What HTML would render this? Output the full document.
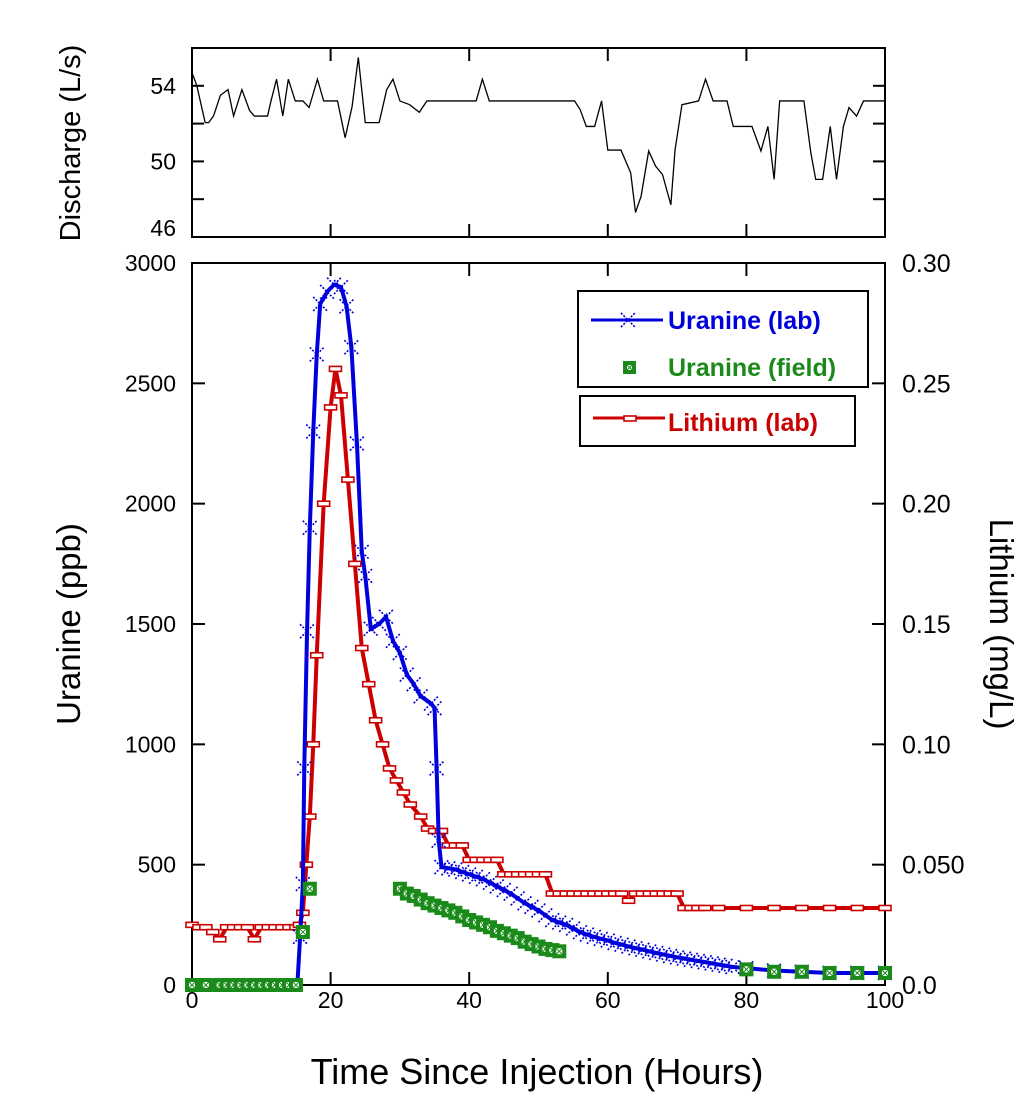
<!DOCTYPE html>
<html><head><meta charset="utf-8"><style>
body{margin:0;background:#fff;}
svg text{font-family:"Liberation Sans",sans-serif;}
</style></head><body>
<svg id="chart" width="1024" height="1112" viewBox="0 0 1024 1112" xmlns="http://www.w3.org/2000/svg">
<g id="g"></g>
</svg>
<script>
const hours=[0,0.7,1.9,2.4,3.1,4.1,5.2,6,7.2,8.3,9,10.9,11.4,12.2,13.1,13.9,14.9,16,16.9,18.1,19,21,22.1,23.1,24,25,27,28.1,29,30,31.4,32.8,33.9,41,41.9,42.9,55.2,56,56.9,58.1,59.1,60,61.9,63.3,64,64.8,65.9,66.9,67.9,69.1,69.7,70.7,73.1,74.1,75.2,77.2,78.1,80.8,82.1,83.1,84,84.8,88.3,89.3,90,91,92.1,93,94,94.8,95.9,96.9,100];
const discharge=[54.7,54,52.05,52.05,52.4,53.5,53.8,52.4,53.8,52.7,52.4,52.4,53.2,54.35,52.4,54.35,53.2,53.2,52.85,54.35,53.2,53.2,51.25,52.9,55.5,52.05,52.05,53.8,54.35,53.2,53,52.6,53.2,53.2,54.35,53.2,53.2,52.75,51.85,51.85,53.2,50.6,50.6,49.4,47.3,48.15,50.55,49.75,49.3,47.7,50.6,53,53.2,54.35,53.2,53.2,51.85,51.85,50.55,51.85,49.05,53.2,53.2,50.45,49.05,49.05,51.85,49.05,51.85,52.85,52.4,53.2,53.2];
const uranineLabT=[0,15.2,15.6,16,16.2,16.6,17,17.5,18,18.5,19.5,20.5,21.5,22.3,23,23.8,24.5,25,25.8,27,28,29,30,31,32,33,34.5,35,35.3,35.6,36,37,38,39,40,41,42,43,44,45,46,47,48,49,50,51,52,53,54,55,56,57,58,59,60,61,62,63,64,65,66,67,68,69,70,71,72,73,74,75,76,77,78,80,84,88,92,96,100];
const uranineLab=[0,0,200,420,900,1470,1900,2300,2620,2830,2880,2910,2900,2820,2650,2250,1800,1700,1480,1500,1530,1430,1380,1290,1250,1200,1170,1150,900,600,490,485,480,470,460,450,440,425,410,395,380,360,340,325,310,290,270,260,250,235,220,210,200,192,185,175,168,160,153,147,140,133,127,121,115,110,105,100,95,90,85,80,75,70,60,55,50,50,50];
const fieldT=[0,2,4,5,6,7,8,9,10,11,12,13,14,15,16,17,30,31,32,33,34,35,36,37,38,39,40,41,42,43,44,45,46,47,48,49,50,51,52,53,80,84,88,92,96,100];
const uranineField=[0,0,0,0,0,0,0,0,0,0,0,0,0,0,220,400,400,380,370,355,340,330,320,310,300,285,270,260,250,240,225,215,205,195,180,170,160,150,145,140,65,55,55,50,50,50];
const lithT=[0,1,2,3,4,5,6,7,8,9,10,11,12,13,14,15,15.5,16,16.5,17,17.5,18,19,20,20.7,21.5,22.5,23.5,24.5,25.5,26.5,27.5,28.5,29.5,30.5,31.5,33,34,35,36,37,38,39,40,41,42,43,44,45,46,47,48,49,50,51,52,53,54,55,56,57,58,59,60,61,62,63,64,65,66,67,68,69,70,71,72,73,74,76,80,84,88,92,96,100];
const lithium=[0.025,0.024,0.024,0.022,0.019,0.024,0.024,0.024,0.024,0.019,0.024,0.024,0.024,0.024,0.024,0.024,0.025,0.03,0.05,0.07,0.1,0.137,0.2,0.24,0.256,0.245,0.21,0.175,0.14,0.125,0.11,0.1,0.09,0.085,0.08,0.075,0.07,0.065,0.064,0.064,0.058,0.058,0.058,0.052,0.052,0.052,0.052,0.052,0.046,0.046,0.046,0.046,0.046,0.046,0.046,0.038,0.038,0.038,0.038,0.038,0.038,0.038,0.038,0.038,0.038,0.038,0.035,0.038,0.038,0.038,0.038,0.038,0.038,0.038,0.032,0.032,0.032,0.032,0.032,0.032,0.032,0.032,0.032,0.032,0.032];
const xTicks=[0,20,40,60,80,100];
const leftTicks=[0,500,1000,1500,2000,2500,3000];
const rightTicks=[0,0.05,0.1,0.15,0.2,0.25,0.3];
const rightLabels=["0.0","0.050","0.10","0.15","0.20","0.25","0.30"];
const topTicks=[46,48,50,52,54,56];
const topLabels=["46","50","54"];

const X0=192,X1=885,B0=263,B1=985,T0=48,T1=237;
const sx=h=>X0+(X1-X0)*h/100;
const syL=v=>B1-(B1-B0)*v/3000;
const syR=v=>B1-(B1-B0)*v/0.3;
const syT=v=>T1-(T1-T0)*(v-46)/10;
const NS="http://www.w3.org/2000/svg";
const g=document.getElementById('g');
function el(tag,attrs,parent){const e=document.createElementNS(NS,tag);for(const k in attrs)e.setAttribute(k,attrs[k]);(parent||g).appendChild(e);return e;}
function txt(s,attrs){const t=el('text',attrs);t.textContent=s;return t;}

let f=el('rect',{x:X0,y:T0,width:X1-X0,height:T1-T0,fill:'none',stroke:'#000','stroke-width':2});


f=el('rect',{x:X0,y:B0,width:X1-X0,height:B1-B0,fill:'none',stroke:'#000','stroke-width':2});



xTicks.forEach(h=>{
  const x=sx(h);
  [[T0,1],[T1,-1],[B0,1],[B1,-1]].forEach(([y,d])=>{
    const l=el('line',{x1:x,x2:x,y1:y,y2:y+d*13,stroke:'#000','stroke-width':2});
    
    
  });
  const t=txt(String(h),{x:x,y:1008,'font-size':23,'text-anchor':'middle'});
  
  
});
leftTicks.forEach(v=>{
  const y=syL(v);
  const l=el('line',{x1:X0,x2:X0+13,y1:y,y2:y,stroke:'#000','stroke-width':2});
  
  
  const t=txt(String(v),{x:176,y:y+8,'font-size':23,'text-anchor':'end'});
  
  
});
rightTicks.forEach((v,i)=>{
  const y=syR(v);
  const l=el('line',{x1:X1-13,x2:X1,y1:y,y2:y,stroke:'#000','stroke-width':2});
  
  
  const t=txt(rightLabels[i],{x:902,y:y+9,'font-size':25});
  
  
});
topTicks.forEach(v=>{
  const y=syT(v);
  [[X0,1],[X1,-1]].forEach(([x,d])=>{
    const l=el('line',{x1:x,x2:x+d*12,y1:y,y2:y,stroke:'#000','stroke-width':2});
    
    
  });
});
topLabels.forEach(s=>{
  const v=+s;const t=txt(s,{x:176,y:syT(v)+(v===46?-1:8),'font-size':23,'text-anchor':'end'});
  
  
});

let t=txt('Discharge (L/s)',{x:0,y:0,'font-size':29,'text-anchor':'middle',transform:'translate(80,143) rotate(-90)'});

t=txt('Uranine (ppb)',{x:0,y:0,'font-size':33,'text-anchor':'middle',transform:'translate(80,624) rotate(-90)'});

t=txt('Lithium (mg/L)',{x:0,y:0,'font-size':33,'text-anchor':'middle',transform:'translate(990,624) rotate(90)'});

t=txt('Time Since Injection (Hours)',{x:537,y:1084,'font-size':36,'text-anchor':'middle'});


let p=el('polyline',{points:hours.map((h,i)=>sx(h)+','+syT(discharge[i])).join(' '),fill:'none',stroke:'#000','stroke-width':1.3});


p=el('polyline',{points:lithT.map((h,i)=>sx(h)+','+syR(lithium[i])).join(' '),fill:'none',stroke:'#cc0000','stroke-width':4});

lithT.forEach((h,i)=>{
  const r=el('rect',{x:sx(h)-6,y:syR(lithium[i])-2.5,width:12,height:5,fill:'#fff',stroke:'#cc0000','stroke-width':1.6});
  
});
p=el('polyline',{points:uranineLabT.map((h,i)=>sx(h)+','+syL(uranineLab[i])).join(' '),fill:'none',stroke:'#0000dd','stroke-width':4});

uranineLabT.forEach((h,i)=>{
  if(uranineLab[i]<=0)return;
  const x=sx(h),y=syL(uranineLab[i]);
  const c=el('path',{d:`M${x-7},${y-7}L${x+7},${y+7}M${x-7},${y+7}L${x+7},${y-7}`,stroke:'#0000dd','stroke-width':1.6,'stroke-dasharray':'2 1.5'});
  
});
fieldT.forEach((h,i)=>{
  const x=sx(h),y=syL(uranineField[i]);
  const r=el('rect',{x:x-7,y:y-7,width:14,height:14,fill:'#1a8a1a'});
  
  const r2=el('path',{d:`M${x-3.5},${y-3.5}h7v7h-7zM${x-3.5},${y-3.5}l7,7M${x+3.5},${y-3.5}l-7,7`,fill:'#fff',stroke:'#1a8a1a','stroke-width':1});
  
});
</script>
<svg width="1024" height="1112" style="position:absolute;left:0;top:0" xmlns="http://www.w3.org/2000/svg">
<rect x="578" y="291" width="290" height="96" fill="#fff" stroke="#000" stroke-width="2"/>
<line x1="591" y1="320" x2="663" y2="320" stroke="#0000dd" stroke-width="3"/>
<path d="M621,313L635,327M621,327L635,313" stroke="#0000dd" stroke-width="1.6" stroke-dasharray="2 1.5"/>
<text x="668" y="329" font-size="25" font-weight="bold" fill="#0000dd" font-family="Liberation Sans, sans-serif">Uranine (lab)</text>
<rect x="623" y="361" width="13" height="13" fill="#1a8a1a"/>
<path d="M626.5,364.5h6v6h-6zM626.5,364.5l6,6M632.5,364.5l-6,6" fill="#fff" stroke="#1a8a1a" stroke-width="1"/>
<text x="668" y="376" font-size="25" font-weight="bold" fill="#1a8a1a" font-family="Liberation Sans, sans-serif">Uranine (field)</text>
<rect x="580" y="396" width="275" height="50" fill="#fff" stroke="#000" stroke-width="2"/>
<line x1="593" y1="418" x2="665" y2="418" stroke="#cc0000" stroke-width="3"/>
<rect x="624" y="416" width="12" height="5" fill="#fff" stroke="#cc0000" stroke-width="1.6"/>
<text x="668" y="431" font-size="25" font-weight="bold" fill="#cc0000" font-family="Liberation Sans, sans-serif">Lithium (lab)</text>
</svg>
</body></html>
